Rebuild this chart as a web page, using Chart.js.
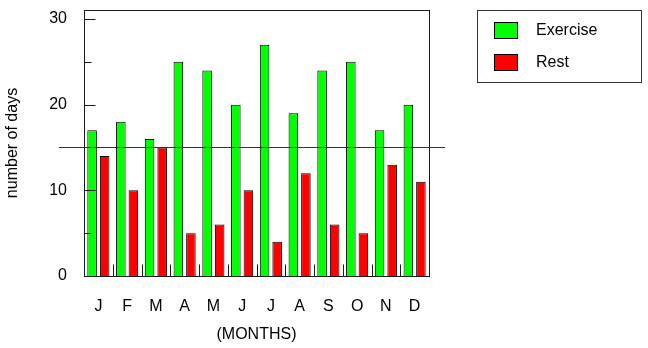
<!DOCTYPE html>
<html lang="en">
<head>
    <meta charset="UTF-8">
    <title>Exercise and Rest Days</title>
    <script src="https://cdn.jsdelivr.net/npm/chart.js"></script>
    <style>
        body, html {
            margin: 0;
            padding: 0;
            background: #fff;
        }
        .chart-box {
            width: 648px;
            height: 348px;
        }
    </style>
</head>
<body>
    <div class="chart-box">
        <canvas id="daysChart" width="648" height="348"></canvas>
    </div>

    <script>
        // Data per month
        const months = ['J', 'F', 'M', 'A', 'M', 'J', 'J', 'A', 'S', 'O', 'N', 'D'];
        const exerciseDays = [17, 18, 16, 25, 24, 20, 27, 19, 24, 25, 17, 20];
        const restDays = [14, 10, 15, 5, 6, 10, 4, 12, 6, 5, 13, 11];
        const majorTicks = [0, 10, 20, 30];
        const minorTicks = [5, 15, 25];
        const referenceLine = 15;

        const FONT = "'Liberation Sans', Arial, sans-serif";
        const INK = '#1a1a1a';

        // Frame, inward tick marks, reference line and boxed legend
        const decorations = {
            id: 'decorations',
            afterDraw(chart) {
                const ctx = chart.ctx;
                const area = chart.chartArea;
                const x = chart.scales.x;
                const y = chart.scales.y;
                const L = Math.round(area.left) + 0.5;
                const R = Math.round(area.right) + 0.5;
                const T = Math.round(area.top) + 0.5;
                const B = Math.round(area.bottom) + 0.5;

                ctx.save();
                ctx.strokeStyle = INK;
                ctx.lineWidth = 1;

                // plot frame
                ctx.strokeRect(L, T, R - L, B - T);

                // y tick marks pointing inward
                ctx.beginPath();
                majorTicks.forEach(v => {
                    const py = Math.round(y.getPixelForValue(v)) + 0.5;
                    ctx.moveTo(L, py);
                    ctx.lineTo(L + 11, py);
                });
                minorTicks.forEach(v => {
                    const py = Math.round(y.getPixelForValue(v)) + 0.5;
                    ctx.moveTo(L, py);
                    ctx.lineTo(L + 7, py);
                });
                ctx.stroke();

                // small marks between month groups
                ctx.beginPath();
                for (let i = 1; i < months.length; i++) {
                    const px = Math.round((x.getPixelForValue(i - 1) + x.getPixelForValue(i)) / 2) + 0.5;
                    ctx.moveTo(px, B);
                    ctx.lineTo(px, B - 12);
                }
                ctx.stroke();

                // reference line across the plot
                const ry = Math.round(y.getPixelForValue(referenceLine)) + 0.5;
                ctx.strokeStyle = '#333';
                ctx.beginPath();
                ctx.moveTo(59, ry);
                ctx.lineTo(445, ry);
                ctx.stroke();

                // legend box
                ctx.strokeStyle = '#333';
                ctx.strokeRect(477.5, 10.5, 164, 72);
                ctx.font = '16px ' + FONT;
                ctx.textBaseline = 'middle';
                ctx.textAlign = 'left';
                chart.data.datasets.forEach((ds, i) => {
                    const top = 22 + i * 32;
                    ctx.fillStyle = ds.backgroundColor;
                    ctx.fillRect(494, top, 24, 17);
                    ctx.strokeStyle = '#000';
                    ctx.strokeRect(494.5, top + 0.5, 23, 16);
                    ctx.fillStyle = '#000';
                    ctx.fillText(ds.label, 536, top + 9);
                });
                ctx.restore();
            }
        };

        new Chart(document.getElementById('daysChart'), {
            type: 'bar',
            data: {
                labels: months,
                datasets: [{
                    label: 'Exercise',
                    data: exerciseDays,
                    backgroundColor: '#00ff00',
                    borderColor: '#000',
                    borderWidth: 1,
                    categoryPercentage: 0.874,
                    barPercentage: 0.76
                }, {
                    label: 'Rest',
                    data: restDays,
                    backgroundColor: '#ff0000',
                    borderColor: '#000',
                    borderWidth: 1,
                    categoryPercentage: 0.874,
                    barPercentage: 0.76
                }]
            },
            options: {
                responsive: false,
                animation: false,
                layout: {
                    padding: { top: 10, right: 219, left: 0, bottom: 0 }
                },
                plugins: {
                    legend: { display: false },
                    tooltip: { enabled: false }
                },
                scales: {
                    x: {
                        grid: { display: false },
                        border: { display: false },
                        ticks: {
                            color: '#000',
                            font: { family: FONT, size: 16 },
                            padding: 13,
                            maxRotation: 0
                        },
                        title: {
                            display: true,
                            text: '(MONTHS)',
                            color: '#000',
                            font: { family: FONT, size: 16 },
                            padding: { top: 0, bottom: 4 }
                        },
                        afterFit(scale) {
                            scale.height = 72;
                        }
                    },
                    y: {
                        min: 0,
                        max: 31.05,
                        grid: { display: false },
                        border: { display: false },
                        afterBuildTicks(scale) {
                            scale.ticks = majorTicks.map(v => ({ value: v }));
                        },
                        ticks: {
                            color: '#000',
                            font: { family: FONT, size: 16 },
                            padding: 9
                        },
                        title: {
                            display: true,
                            text: 'number of days',
                            color: '#000',
                            font: { family: FONT, size: 16 },
                            padding: { top: 3, bottom: 0 }
                        },
                        afterFit(scale) {
                            scale.width = 84;
                            // keep the plot top flush with the layout padding
                            scale.paddingTop = 0;
                            scale.paddingBottom = 0;
                        }
                    }
                }
            },
            plugins: [decorations]
        });
    </script>
</body>
</html>
